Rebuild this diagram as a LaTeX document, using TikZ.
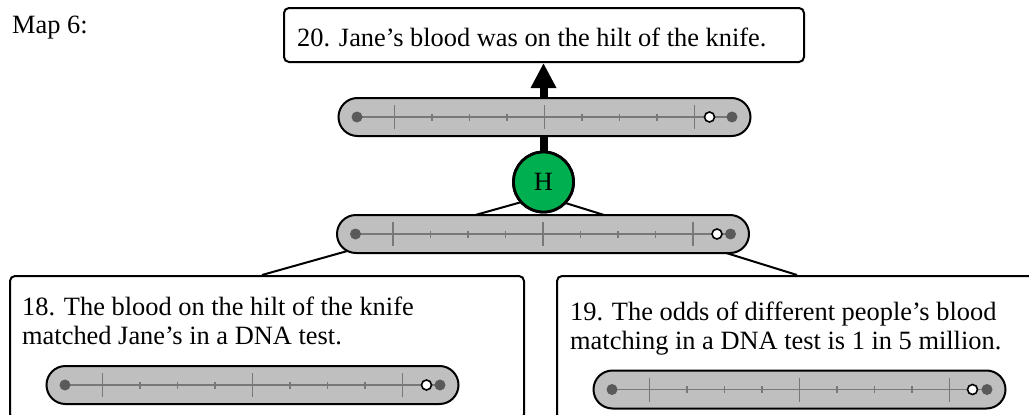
\documentclass[tikz,border=0pt]{standalone}
\usepackage{fontspec}
\setmainfont{Liberation Serif}
\usetikzlibrary{arrows.meta}
\definecolor{barfill}{RGB}{191,191,191}
\definecolor{dotgray}{RGB}{90,90,90}
\definecolor{linegray}{RGB}{120,120,120}
\definecolor{hgreen}{RGB}{0,176,80}
\tikzset{
  txt/.style={inner sep=0pt, font=\fontsize{26.4}{29}\selectfont, align=left},
  claimbox/.style={draw, line width=2pt, rounded corners=5pt, inner sep=0pt},
  barshape/.style={draw, line width=2pt, fill=barfill, rounded corners=19pt, minimum width=412pt, minimum height=38pt, inner sep=0pt},
  barline/.style={draw=linegray, line width=1.3pt},
  hnode/.style={circle, draw, line width=2.8pt, fill=hgreen, minimum size=60pt, inner sep=0pt, font=\fontsize{26.4}{29}\selectfont},
  link/.style={line width=2pt},
}
\newcommand\ScaleBar[4]{%
  \node[barshape] (#1) at (#2,#3) {};
  \draw[barline] ({#2-187.5},#3) -- ({#2+187.5},#3);
  \foreach \t in {-150,0,150} \draw[barline] ({#2+\t},{#3-12}) -- ({#2+\t},{#3+12});
  \foreach \t in {-112.5,-75,-37.5,37.5,75,112.5} \draw[barline] ({#2+\t},{#3-3.5}) -- ({#2+\t},{#3+3.5});
  \fill[dotgray] ({#2-187.5},#3) circle (5.5pt);
  \fill[dotgray] ({#2+187.5},#3) circle (5.5pt);
  \draw[line width=1.6pt, fill=white] ({#2+#4},#3) circle (5pt);
}
\begin{document}
\begin{tikzpicture}[x=1pt,y=-1pt]
\useasboundingbox (0,0) rectangle (1029,415);
% text boxes
\node[claimbox, minimum width=520pt, minimum height=54pt] (top) at (544,35) {};
\node[txt, anchor=west] (toptxt) at (297,37) {20. Jane’s blood was on the hilt of the knife.};
\node[txt, anchor=base west] (map) at (12,33) {Map 6:};
\node[claimbox, anchor=north west, minimum width=514pt, minimum height=143pt] (b18) at (9,275) {};
\node[claimbox, anchor=north west, minimum width=500pt, minimum height=143pt] (b19) at (556,275) {};
\node[txt, anchor=north west] (t18) at (22,297) {18. The blood on the hilt of the knife\\matched Jane’s in a DNA test.};
\node[txt, anchor=north west] (t19) at (570,302) {19. The odds of different people’s blood\\matching in a DNA test is 1 in 5 million.};
% links to H
\coordinate (hj) at (543,196);
\coordinate (l18) at (262,275);
\coordinate (l19) at (797,275);
\draw[link] (l18) -- (hj);
\draw[link] (l19) -- (hj);
% H node and arrow
\node[hnode] (H) at (543.5,182) {H};
\draw[line width=8pt, -{Triangle[width=24pt,length=25pt]}] (H.north) -- (H.north |- top.south);
% bars
\ScaleBar{barU}{544.5}{117}{165}
\ScaleBar{barL}{543}{234}{174}
\ScaleBar{bar18}{252.5}{385}{174}
\ScaleBar{bar19}{799.5}{389.5}{173}
\node[hnode] at (H) {H};
\end{tikzpicture}
\end{document}
